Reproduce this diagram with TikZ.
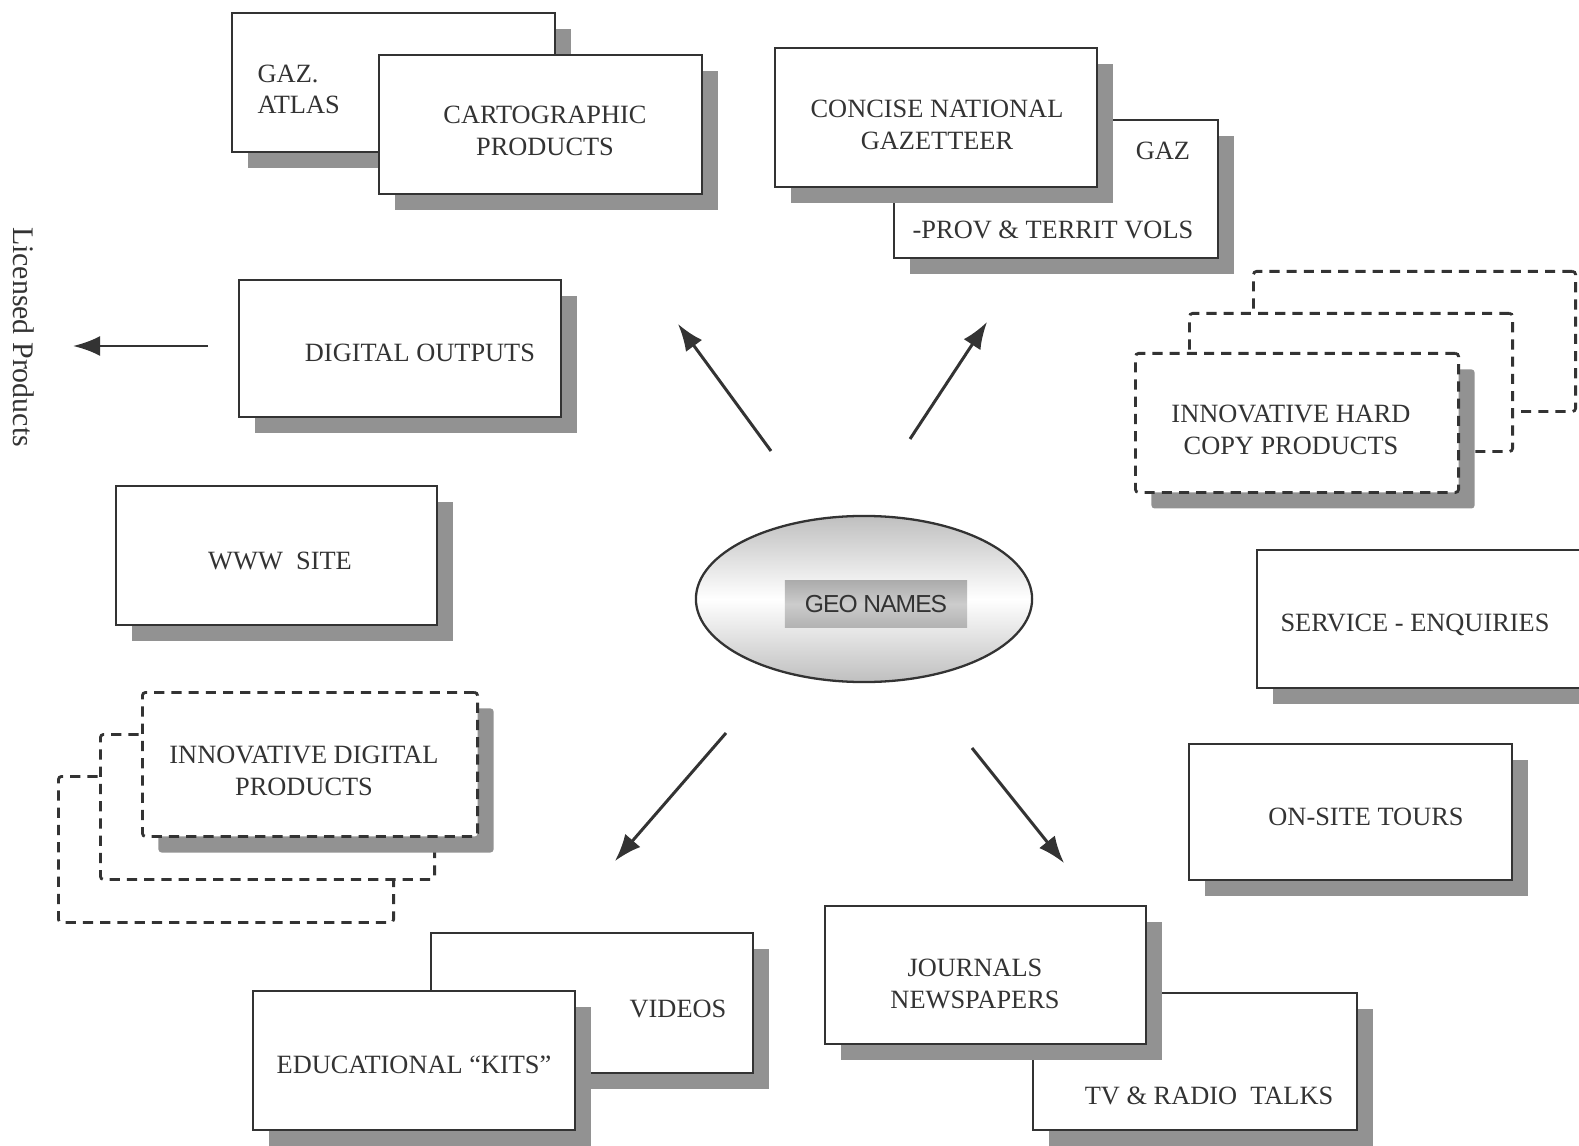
\documentclass[tikz,border=0pt]{standalone}
\usepackage{fontspec}
\setmainfont{Liberation Serif}
\newfontfamily\geofont{Liberation Sans}
\usetikzlibrary{shapes.geometric,shadows,arrows.meta}
\definecolor{ink}{HTML}{333333}
\definecolor{shade}{HTML}{929292}
\tikzset{
  box/.style={draw=ink, fill=white, line width=0.65pt, anchor=north west, inner sep=0pt,
    drop shadow={shadow xshift=0.16cm, shadow yshift=-0.16cm, fill=shade, opacity=1}},
  dbox/.style={draw=ink, fill=white, line width=0.8pt, anchor=north west, inner sep=0pt,
    dash pattern=on 2.9pt off 2pt, rounded corners=0.9pt},
  dboxs/.style={dbox, drop shadow={shadow xshift=0.16cm, shadow yshift=-0.16cm, fill=shade, opacity=1}},
  lbl/.style={text=ink, font=\fontsize{7.5pt}{9pt}\selectfont, align=center, inner sep=0pt},
  arr/.style={draw=ink, line width=0.85pt, -{Latex[length=0.27cm,width=0.2cm]}},
}
\begin{document}
\begin{tikzpicture}[x=0.01cm,y=-0.01cm]
\useasboundingbox (0,0) rectangle (1579,1146);
\clip (0,0) rectangle (1579,1146);
% top-left pair
\node[box, minimum width=3.23cm, minimum height=1.39cm] (gazatlas) at (231,12) {};
\node[box, minimum width=3.23cm, minimum height=1.39cm] (carto) at (378,54) {};
\node[lbl, align=left, anchor=north west] (tgazatlas) at (257,64) {GAZ.\\ATLAS};
\node[lbl] (tcarto) at (545,131) {CARTOGRAPHIC\\PRODUCTS};
% top-right pair
\node[box, minimum width=3.24cm, minimum height=1.38cm] (gazprov) at (893,119) {};
\node[box, minimum width=3.22cm, minimum height=1.39cm] (concise) at (774,47) {};
\node[lbl] (tconcise) at (937,125) {CONCISE NATIONAL\\GAZETTEER};
\node[lbl] (tgaz) at (1163,151) {GAZ};
\node[lbl] (tprov) at (1053,230) {-PROV \& TERRIT VOLS};
% digital outputs
\node[box, minimum width=3.22cm, minimum height=1.37cm] (digout) at (238,279) {};
\node[lbl] (tdigout) at (420,353) {DIGITAL OUTPUTS};
% www
\node[box, minimum width=3.21cm, minimum height=1.39cm] (www) at (115,485) {};
\node[lbl] (twww) at (280,561) {WWW\ \ SITE};
% innovative digital (dashed)
\node[dbox, minimum width=3.35cm, minimum height=1.46cm] (idpback) at (57,775) {};
\node[dbox, minimum width=3.34cm, minimum height=1.45cm] (idpmid) at (99,733) {};
\node[dboxs, minimum width=3.35cm, minimum height=1.44cm] (idp) at (141,691) {};
\node[lbl] (tidp) at (304,771) {INNOVATIVE DIGITAL\\PRODUCTS};
% innovative hard copy (dashed)
\node[dbox, minimum width=3.22cm, minimum height=1.40cm] (ihcback) at (1252,270) {};
\node[dbox, minimum width=3.23cm, minimum height=1.38cm] (ihcmid) at (1188,312) {};
\node[dboxs, minimum width=3.23cm, minimum height=1.39cm] (ihc) at (1134,352) {};
\node[lbl] (tihc) at (1291,430) {INNOVATIVE HARD\\COPY PRODUCTS};
% service
\node[box, minimum width=3.23cm, minimum height=1.38cm] (service) at (1256,549) {};
\node[lbl] (tservice) at (1415,625) {SERVICE - ENQUIRIES};
% on-site
\node[box, minimum width=3.23cm, minimum height=1.36cm] (onsite) at (1188,743) {};
\node[lbl] (tonsite) at (1366,817) {ON-SITE TOURS};
% journals / tv
\node[box, minimum width=3.24cm, minimum height=1.37cm] (tv) at (1032,992) {};
\node[box, minimum width=3.21cm, minimum height=1.38cm] (journals) at (824,905) {};
\node[lbl] (tjournals) at (975,984) {JOURNALS\\NEWSPAPERS};
\node[lbl] (ttv) at (1209,1096) {TV \& RADIO\ \ TALKS};
% videos / educational
\node[box, minimum width=3.22cm, minimum height=1.40cm] (videos) at (430,932) {};
\node[box, minimum width=3.22cm, minimum height=1.39cm] (edu) at (252,990) {};
\node[lbl] (tvideos) at (678,1009) {VIDEOS};
\node[lbl] (tedu) at (414,1065) {EDUCATIONAL “KITS”};
% centre
\node[ellipse, draw=ink, line width=0.65pt, minimum width=3.36cm, minimum height=1.66cm,
  top color=gray!50, bottom color=gray!50, middle color=white] (geo) at (864,599) {};
\node[rectangle, minimum width=1.82cm, minimum height=0.46cm, inner sep=0pt,
  top color=gray!65, bottom color=gray!60, middle color=gray!40,
  text=ink, font=\geofont\fontsize{7pt}{8pt}\selectfont] (geoname) at (876,604) {\addfontfeature{LetterSpace=-4}GEO NAMES};
% arrows
\coordinate (s1) at (771,451); \coordinate (e1) at (678,324);
\coordinate (s2) at (910,439); \coordinate (e2) at (987,322);
\coordinate (s3) at (726,733); \coordinate (e3) at (615,861);
\coordinate (s4) at (972,748); \coordinate (e4) at (1064,863);
\coordinate (s5) at (208,346); \coordinate (e5) at (73,346);
\draw[arr] (s1) -- (e1);
\draw[arr] (s2) -- (e2);
\draw[arr] (s3) -- (e3);
\draw[arr] (s4) -- (e4);
\draw[arr] (s5) -- (e5);
\node[lbl, rotate=-90, font=\fontsize{8.5pt}{10pt}\selectfont] (licensed) at (24,337) {Licensed Products};
\end{tikzpicture}
\end{document}
